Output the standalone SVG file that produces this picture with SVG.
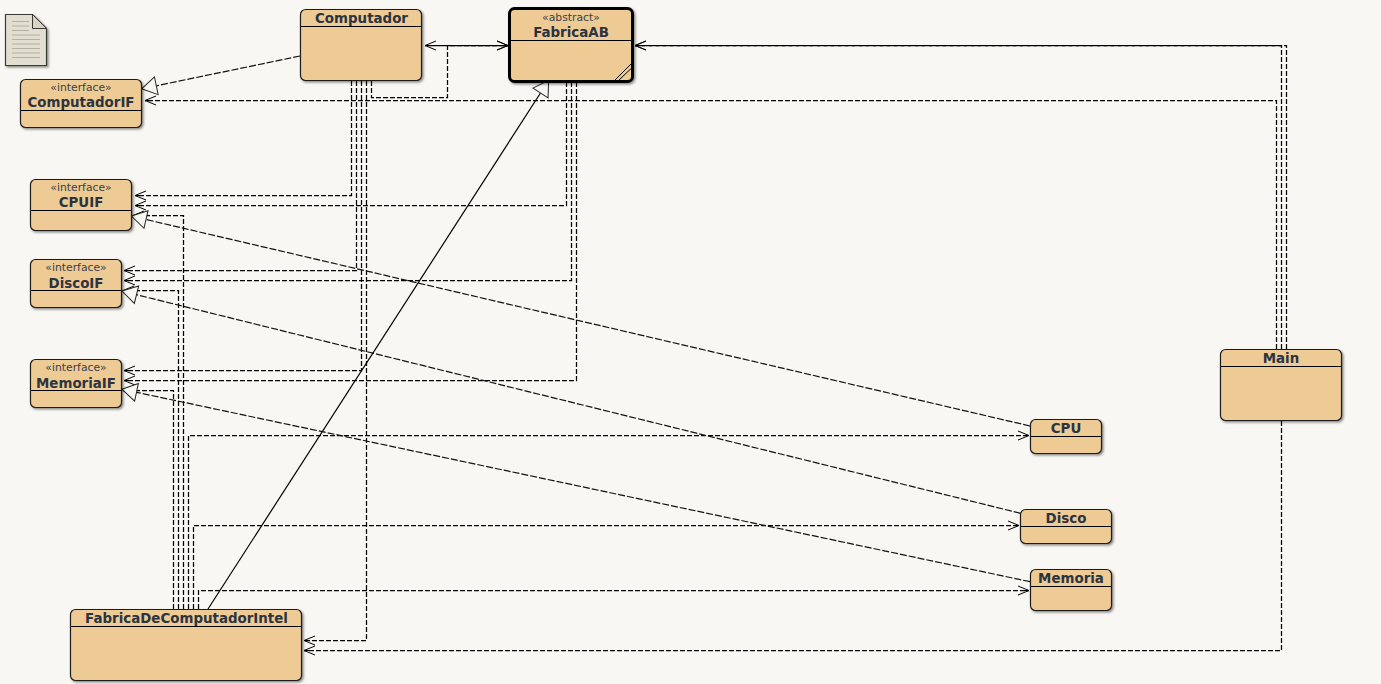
<svg xmlns="http://www.w3.org/2000/svg" width="1381" height="684" viewBox="0 0 1381 684">
<style>
.box{fill:#eecb94;stroke:#1f1f1f;stroke-width:1.2;filter:url(#sh)}
.div{stroke:#000;stroke-width:1;fill:none}
.name{font:bold 13.4px "DejaVu Sans",sans-serif;fill:#2b3340;text-anchor:middle}
.st{font:10.8px "DejaVu Sans",sans-serif;fill:#3a4048;text-anchor:middle}
.d{fill:none;stroke:#000;stroke-width:1.25;stroke-dasharray:5 2;marker-end:url(#open)}
.s{fill:none;stroke:#000;stroke-width:1.25}
.r{fill:none;stroke:#111;stroke-width:1.2;stroke-dasharray:7 2;marker-end:url(#tri)}
</style>
<defs>
<filter id="sh" x="-10%" y="-10%" width="125%" height="125%"><feDropShadow dx="1.5" dy="1.5" stdDeviation="1.2" flood-color="#000" flood-opacity=".45"/></filter>
<marker id="open" markerUnits="userSpaceOnUse" markerWidth="14" markerHeight="14" refX="11" refY="7" orient="auto" overflow="visible"><path d="M0 2.5L11 7L0 11.5M5 7H11" fill="none" stroke="#000" stroke-width="1"/></marker>
<marker id="openS" markerUnits="userSpaceOnUse" markerWidth="14" markerHeight="14" refX="11" refY="7" orient="auto-start-reverse" overflow="visible"><path d="M0 2.5L11 7L0 11.5" fill="none" stroke="#000" stroke-width="1"/></marker>
<marker id="tri" markerUnits="userSpaceOnUse" markerWidth="20" markerHeight="22" refX="0" refY="10" orient="auto" overflow="visible"><path d="M0 1L15 10L0 19Z" fill="#f8f7f3" stroke="#222" stroke-width="1"/></marker>
</defs>
<rect width="1381" height="684" fill="#f8f7f3"/>
<g id="note-icon">
<path d="M5.5 14.5H32.5L46.5 28.5V65.5H5.5Z" fill="#e2dfd0" stroke="#3a3a3a" stroke-width="1.2" filter="url(#sh)"/>
<path d="M32.5 14.5V28.5H46.5Z" fill="#d8d4c0" stroke="#3a3a3a" stroke-width="1"/>
<path d="M12 21.5H29M12 26H29M12 30.5H29M12 35H40M12 39.5H40M12 44H40M12 48.5H40M12 53H40M12 57.5H40" stroke="#b3b2a0" stroke-width="1" fill="none"/>
</g>
<g id="connectors">
<path class="r" d="M300 56L156.3 85.8"/>
<path class="d" d="M371.5 81V97.5H447.5V45.5H508"/>
<path class="s" d="M425 45.5H508" marker-start="url(#openS)" marker-end="url(#openS)"/>
<path class="d" d="M351.5 81V195.5H135"/>
<path class="d" d="M356.5 81V270.5H124"/>
<path class="d" d="M361.5 81V370.5H124"/>
<path class="d" d="M366.5 81V640.5H304"/>
<path class="d" d="M566.5 82V205.5H135"/>
<path class="d" d="M571.5 82V280.5H124"/>
<path class="d" d="M576.5 82V380.5H124"/>
<path class="d" d="M1276.5 349V100.5H145"/>
<path class="d" d="M1281.5 349V45.5H635"/>
<path class="d" d="M1286.5 349V45.5H635"/>
<path class="d" d="M1281.5 421V650.5H304"/>
<path class="d" d="M183.5 609V215.5H133"/>
<path class="d" d="M178.5 609V290.5H123"/>
<path class="d" d="M173.5 609V390.5H123"/>
<path class="d" d="M188.5 609V435.5H1029"/>
<path class="d" d="M193.5 609V525.5H1019"/>
<path class="d" d="M198.5 609V590.5H1029"/>
<path class="r" d="M1030 426L146 219.5"/>
<path class="r" d="M1020.5 513.3L136.5 294.7"/>
<path class="r" d="M1030 581.7L136.5 392.3"/>
<path d="M208 609L540.5 93" fill="none" stroke="#000" stroke-width="1.2" marker-end="url(#tri)"/>
</g>
<g id="Computador"><rect class="box" x="300.5" y="9.5" width="121" height="71" rx="5"/><path class="div" d="M301 26.5H421"/><text class="name" x="361.5" y="23">Computador</text></g>
<g id="FabricaAB"><rect class="box" x="509.5" y="8.5" width="123" height="73" rx="5" style="stroke:#000;stroke-width:3"/><path class="div" d="M511 40.5H631"/><path class="div" d="M615 80L631 64M619 80L631.7 68"/><text class="st" x="571" y="21">«abstract»</text><text class="name" x="571" y="37">FabricaAB</text></g>
<g id="ComputadorIF"><rect class="box" x="20.5" y="79.5" width="121" height="48" rx="5"/><path class="div" d="M21 110.5H141"/><text class="st" x="81" y="91">«interface»</text><text class="name" x="81" y="107">ComputadorIF</text></g>
<g id="CPUIF"><rect class="box" x="30.5" y="179.5" width="101" height="51" rx="5"/><path class="div" d="M31 210.5H131"/><text class="st" x="81" y="191">«interface»</text><text class="name" x="81" y="207">CPUIF</text></g>
<g id="DiscoIF"><rect class="box" x="30.5" y="259.5" width="91" height="48" rx="5"/><path class="div" d="M31 290.5H121"/><text class="st" x="76" y="271">«interface»</text><text class="name" x="76" y="287.5">DiscoIF</text></g>
<g id="MemoriaIF"><rect class="box" x="30.5" y="359.5" width="91" height="48" rx="5"/><path class="div" d="M31 390.5H121"/><text class="st" x="76" y="371">«interface»</text><text class="name" x="76" y="387.5">MemoriaIF</text></g>
<g id="FabricaDeComputadorIntel"><rect class="box" x="70.5" y="609.5" width="231" height="71" rx="5"/><path class="div" d="M71 626.5H301"/><text class="name" x="186.5" y="623">FabricaDeComputadorIntel</text></g>
<g id="CPU"><rect class="box" x="1030.5" y="419.5" width="71" height="34" rx="5"/><path class="div" d="M1031 436.5H1101"/><text class="name" x="1066" y="433">CPU</text></g>
<g id="Disco"><rect class="box" x="1020.5" y="509.5" width="91" height="34" rx="5"/><path class="div" d="M1021 526.5H1111"/><text class="name" x="1066" y="523">Disco</text></g>
<g id="Memoria"><rect class="box" x="1030.5" y="569.5" width="81" height="41" rx="5"/><path class="div" d="M1031 586.5H1111"/><text class="name" x="1071" y="583">Memoria</text></g>
<g id="Main"><rect class="box" x="1220.5" y="349.5" width="121" height="71" rx="5"/><path class="div" d="M1221 366.5H1341"/><text class="name" x="1281" y="363">Main</text></g>
</svg>
